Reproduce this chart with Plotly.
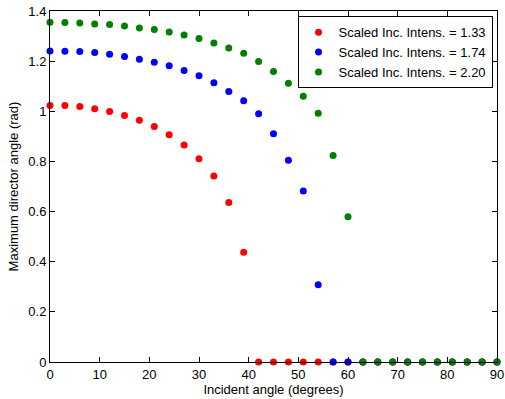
import plotly.graph_objects as go

angles = list(range(0, 91, 3))

red_vals = [1.023, 1.023, 1.019, 1.010, 0.999, 0.983, 0.964, 0.939, 0.906, 0.866,
            0.811, 0.742, 0.636, 0.438] + [0.0] * 17
blue_vals = [1.240, 1.239, 1.238, 1.234, 1.227, 1.219, 1.208, 1.196, 1.182, 1.163,
             1.142, 1.114, 1.079, 1.042, 0.990, 0.910, 0.805, 0.682, 0.308] + [0.0] * 12
green_vals = [1.355, 1.354, 1.352, 1.348, 1.346, 1.340, 1.332, 1.326, 1.316, 1.304,
              1.290, 1.272, 1.252, 1.231, 1.199, 1.159, 1.112, 1.060, 0.992, 0.824,
              0.579] + [0.0] * 10

series_names = ["Scaled Inc. Intens. = 1.33", "Scaled Inc. Intens. = 1.74",
                "Scaled Inc. Intens. = 2.20"]
colors = ["#ff0000", "#0000ff", "#008000"]

x_ticks = list(range(0, 91, 10))
y_ticks = [0, 0.2, 0.4, 0.6, 0.8, 1.0, 1.2, 1.4]
y_tick_labels = ["0", "0.2", "0.4", "0.6", "0.8", "1", "1.2", "1.4"]

fig = go.Figure()
for name, vals, c in zip(series_names, [red_vals, blue_vals, green_vals], colors):
    fig.add_trace(go.Scatter(x=angles, y=vals, mode="markers", name=name,
                             marker=dict(color=c, size=7, line=dict(width=0)),
                             cliponaxis=False))

font = dict(family="Liberation Sans, Arial, Helvetica, sans-serif", size=13, color="black")
axis_common = dict(showline=True, linecolor="black", linewidth=1, mirror="ticks",
                   ticks="inside", ticklen=5, tickcolor="black", showgrid=False,
                   zeroline=False, tickfont=font, ticklabeloverflow="allow",
                   automargin=False)

fig.update_layout(
    width=505, height=399,
    margin=dict(l=50, r=8, t=11, b=37),
    paper_bgcolor="white", plot_bgcolor="white",
    font=font,
    xaxis=dict(range=[0, 90], tickvals=x_ticks,
               title=dict(text="Incident angle (degrees)", standoff=2, font=font),
               **axis_common),
    yaxis=dict(range=[0, 1.4], tickvals=y_ticks, ticktext=y_tick_labels,
               title=dict(text="Maximum director angle (rad)", standoff=6, font=font),
               **axis_common),
    legend=dict(x=0.99, y=0.985, xanchor="right", yanchor="top",
                bordercolor="black", borderwidth=1, bgcolor="white",
                font=font, itemsizing="trace", tracegroupgap=0),
    showlegend=True,
)

fig.write_html("out.html", config={"displayModeBar": False},
               post_script="document.body.style.margin='0';document.body.style.overflow='hidden';")
